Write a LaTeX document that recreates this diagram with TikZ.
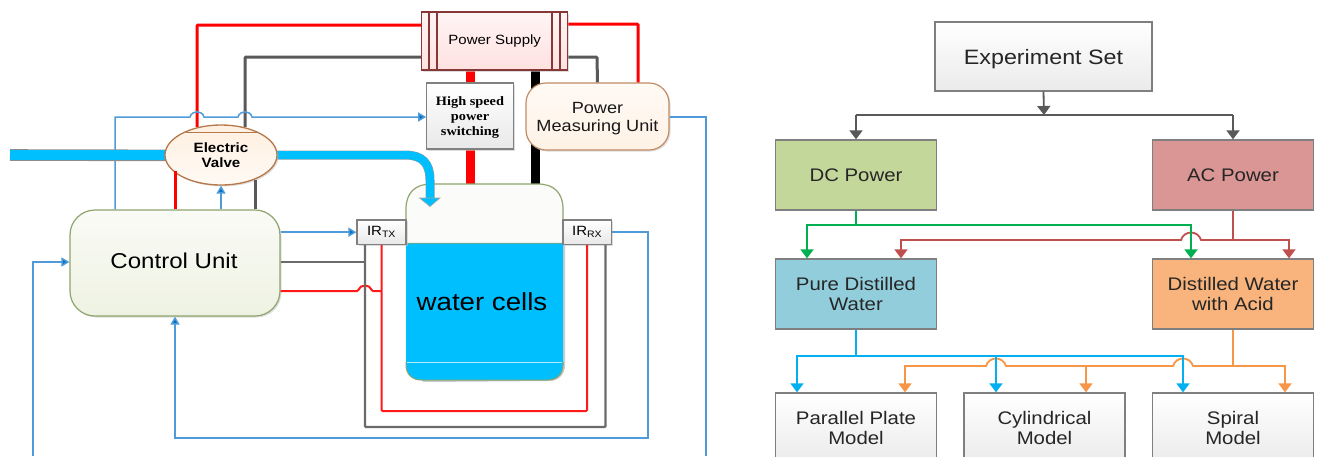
\documentclass[tikz,border=0pt]{standalone}
\usepackage{fontspec}
\setmainfont[FakeStretch=1.12]{Liberation Sans}
\newfontfamily\serifbold[FakeStretch=1.12]{Liberation Serif}
\usetikzlibrary{arrows.meta,shadows,shapes.geometric}
\definecolor{cgreen}{HTML}{00B050}
\definecolor{cbrick}{HTML}{C0504D}
\definecolor{corange}{HTML}{F79646}
\definecolor{ccyan}{HTML}{00B0F0}
\definecolor{cgray}{HTML}{595959}
\definecolor{cline}{HTML}{4F9AD8}
\definecolor{chead}{HTML}{0070C0}
\definecolor{cpipe}{HTML}{00BFFF}
\definecolor{cedge}{HTML}{7F7F7F}
\definecolor{cvalve}{HTML}{B5784A}
\definecolor{colive}{HTML}{8FA46E}
\definecolor{HTMLdc}{HTML}{C4D79B}
\definecolor{HTMLac}{HTML}{D99694}
\definecolor{HTMLpure}{HTML}{92CDDC}
\definecolor{HTMLacid}{HTML}{F8B47C}
\definecolor{cutop}{HTML}{FAFBF6}
\definecolor{cubot}{HTML}{EEF2E2}
\newcommand{\fs}[1]{\fontsize{#1}{1.08\dimexpr #1pt\relax}\selectfont}
\newcommand{\jump}[2]{-- (#1-7,#2) .. controls (#1-5,#2-7) and (#1+5,#2-7) .. (#1+7,#2)}
\newcommand{\jumpb}[2]{-- (#1+10,#2) .. controls (#1+7,#2-10) and (#1-7,#2-10) .. (#1-10,#2)}
\tikzset{
  softshadow/.style={drop shadow={shadow xshift=1.5pt,shadow yshift=-1.5pt,fill=black!22,opacity=.6}},
  blockbox/.style={draw=cedge,line width=1.3pt,inner sep=0pt,minimum width=161pt,minimum height=70pt,align=center,font=\fs{18.2},text=black!85},
  plainbox/.style={blockbox,top color=white,bottom color=black!8},
  smallbox/.style={draw=black!50,line width=1.2pt,inner sep=0pt,top color=white,bottom color=black!9,align=center,softshadow},
  softbox/.style={draw=colive,line width=1.2pt,rounded corners=#1,inner sep=0pt,align=center,softshadow},
  wirered/.style={draw=red!90!white,line width=2pt,rounded corners=1pt},
  redthick/.style={draw=red,line width=3pt,rounded corners=1pt},
  wiregray/.style={draw=black!58,line width=2.2pt,rounded corners=1pt},
  graythick/.style={draw=black!65,line width=3pt,rounded corners=1pt},
  wireblue/.style={draw=cline,line width=1.5pt},
  tipblue/.style={-{Triangle[length=8pt,width=9pt,fill=chead]}},
  flow/.style={line width=1.8pt,-{Triangle[length=9pt,width=13pt]}},
  flowplain/.style={line width=1.8pt},
}
\begin{document}
\begin{tikzpicture}[x=1pt,y=-1pt]
\clip (0,0) rectangle (1317,456);
\fill[white] (0,0) rectangle (1317,456);
% free ends
\coordinate (pipestart) at (10,155);
\coordinate (leftfree) at (33,456);
\coordinate (rightfree) at (706,456);
\coordinate (stemend) at (1044,115);

% thick supply bars behind
\coordinate (barRtop) at (470,70);
\coordinate (barRbot) at (470,185);
\coordinate (barKtop) at (535,70);
\coordinate (barKbot) at (535,185);
\draw[red,line width=9pt] (barRtop) -- (barRbot);
\draw[black,line width=9pt] (barKtop) -- (barKbot);

% left diagram nodes
\node[softbox=25pt,minimum width=210pt,minimum height=106pt,top color=cutop,bottom color=cubot] (cu) at (175,263) {};
\node[font=\fs{21.5},text=black] (cutext) at (174,261) {Control Unit};

% water cell
\fill[black!20] (408,245) -- (565,245) -- (565,366) arc[start angle=0,end angle=-90,radius=15pt] -- (423,382) -- cycle;
\path[fill=white!96!colive,draw=colive,line width=1.2pt] (406,243.5) -- (406,209) .. controls (406,193) and (415,184) .. (431,184) -- (538,184) .. controls (554,184) and (563,193) .. (563,209) -- (563,243.5) -- cycle;
\path[fill=cpipe] (406,243.5) -- (563,243.5) -- (563,365) .. controls (563,375) and (556,380) .. (548,380) -- (421,380) .. controls (413,380) and (406,375) .. (406,365) -- cycle;
\draw[colive,line width=1pt] (406,362) -- (406,365) .. controls (406,375) and (413,380) .. (421,380) -- (548,380) .. controls (556,380) and (563,375) .. (563,365) -- (563,362);
\draw[white!70!cpipe,line width=1pt] (407,362) -- (562,362);
\node[font=\fs{24.7},text=black] (celltext) at (482,302) {water cells};

% IR boxes
\node[smallbox,minimum width=49pt,minimum height=24.5pt,font=\fs{13.4}] (irtx) at (381.5,232.2) {IR\textsubscript{TX}};
\node[smallbox,minimum width=48.5pt,minimum height=24.5pt,font=\fs{13.4}] (irrx) at (587.2,232.2) {IR\textsubscript{RX}};

% supply
\node[softbox=0pt,draw=cbrick!70!black,top color=white!96!red,bottom color=white!88!red,minimum width=146pt,minimum height=58pt,font=\fs{13.4}] (ps) at (494.7,41) {Power Supply};
\draw[draw=cbrick!70!black,line width=1.1pt] (429,12) -- (429,70) (437,12) -- (437,70) (552,12) -- (552,70) (560,12) -- (560,70);
\node[smallbox,minimum width=86.5pt,minimum height=66pt,text depth=0pt,font={\serifbold\bfseries\fontsize{12.8}{15}\selectfont}] (hs) at (470,116) {High speed\\power\\switching};
\node[softbox=20pt,draw=cvalve!85!white,top color=white!96!orange,bottom color=white!90!orange,minimum width=143pt,minimum height=67pt,text depth=0pt,font={\fontsize{16.2}{18}\selectfont},text=black!90] (pm) at (597.5,116.5) {Power\\Measuring Unit};

% wires top
\draw[redthick] (ps.west |- 0,25) -- (197,25) -- (197,127);
\draw[graythick] (ps.west |- 0,57) -- (245,57) -- (245,127);
\draw[wireblue,tipblue,rounded corners=0pt] (115,0 |- cu.north) -- (115,117) \jump{197}{117} \jump{245}{117} -- (hs.west |- 0,117);
\draw[redthick] (ps.east |- 0,24) -- (638,24) -- (638,0 |- pm.north);
\draw[graythick] (ps.east |- 0,57) -- (597,57) -- (pm.north);

% pipe
\draw[black!45,line width=11.6pt] (pipestart) -- (170,155.4);
\draw[cpipe,line width=10.5pt] (pipestart) -- (170,155);
\draw[black!40,line width=9pt] (270,155) -- (405,155) .. controls (422,155) and (430,163) .. (430,180) -- (430,198);
\draw[cpipe,line width=8pt] (270,155) -- (405,155) .. controls (422,155) and (430,163) .. (430,180) -- (430,199);
\fill[cpipe,draw=black!35,line width=.6pt] (419.5,198) -- (440,198) -- (430,206.5) -- cycle;

% valve
\node[draw=cvalve,line width=1.3pt,ellipse,minimum width=112pt,minimum height=60pt,inner sep=0pt,top color=white!88!orange,bottom color=white!96!orange,align=center,text depth=0pt,font={\fontsize{13.5}{15}\selectfont\bfseries},softshadow] (valve) at (221,155) {Electric\\Valve};
\draw[cvalve,line width=1.2pt] (186,132.5) -- (257,132.5);

% control to valve
\draw[redthick] (175,0 |- cu.north) -- (175,171);
\draw[graythick] (255,0 |- cu.north) -- (255,180);
\draw[wireblue,tipblue] (cu.north -| valve.south) -- (valve.south);

% control to IR
\draw[wireblue,tipblue] (cu.east |- irtx.west) -- (irtx.west);
\draw[wiregray] (cu.east |- 0,262) -- (365,262);
\draw[wirered] (cu.east |- 0,291) \jump{365}{291} -- (381.5,291);
\draw[wiregray] (365,0 |- irtx.south) -- (365,427) -- (605.5,427) -- (605.5,0 |- irrx.south);
\draw[wirered] (381.5,0 |- irtx.south) -- (381.5,411) -- (587,411) -- (587,0 |- irrx.south);
\draw[wireblue,tipblue] (irrx.east) -- (648,232.2) -- (648,438) -- (175,438) -- (cu.south);
\draw[wireblue,tipblue] (leftfree) -- (33,262) -- (cu.west |- 0,262);
\draw[wireblue] (pm.east |- 0,117) -- (706,117) -- (rightfree);

% right diagram nodes
\node[plainbox,minimum width=217pt,minimum height=69pt,text depth=0pt,font=\fs{20.8}] (exp) at (1043.5,56.5) {Experiment Set};
\node[blockbox,fill=HTMLdc] (dc) at (856,175) {DC Power};
\node[blockbox,fill=HTMLac] (ac) at (1233,175) {AC Power};
\node[blockbox,fill=HTMLpure] (pure) at (856,294) {Pure Distilled\\Water};
\node[blockbox,fill=HTMLacid] (acid) at (1233,294) {Distilled Water\\with Acid};
\node[plainbox] (par) at (856,428) {Parallel Plate\\Model};
\node[plainbox] (cyl) at (1044.5,428) {Cylindrical\\Model};
\node[plainbox] (spi) at (1233,428) {Spiral\\Model};

% right connectors
\draw[flow,draw=cgray,fill=cgray] (exp.south) -- (stemend);
\draw[flowplain,draw=cgray] (stemend) -- (856,115);
\draw[flowplain,draw=cgray] (stemend) -- (1233,115);
\draw[flow,draw=cgray,fill=cgray] (856,115) -- (dc.north);
\draw[flow,draw=cgray,fill=cgray] (1233,115) -- (ac.north);

\draw[flowplain,draw=cbrick] (ac.south) -- (1233,240);
\draw[flow,draw=cbrick] (1233,240) \jumpb{1191}{240} -- (901,240) -- (901,0 |- pure.north);
\draw[flow,draw=cbrick] (1233,240) -- (1289,240) -- (1289,0 |- acid.north);
\draw[flowplain,draw=cgreen] (dc.south) -- (856,225);
\draw[flow,draw=cgreen] (856,225) -- (807,225) -- (807,0 |- pure.north);
\draw[flow,draw=cgreen] (856,225) -- (1191,225) -- (1191,0 |- acid.north);

\draw[flowplain,draw=corange] (acid.south) -- (1233,366);
\draw[flow,draw=corange] (1233,366) \jumpb{1183}{366} -- (1086,366) -- (1086,0 |- cyl.north);
\draw[flow,draw=corange] (1086,366) \jumpb{996}{366} -- (905,366) -- (905,0 |- par.north);
\draw[flow,draw=corange] (1233,366) -- (1285,366) -- (1285,0 |- spi.north);
\draw[flowplain,draw=ccyan] (pure.south) -- (856,356);
\draw[flow,draw=ccyan] (856,356) -- (797,356) -- (797,0 |- par.north);
\draw[flow,draw=ccyan] (996,356) -- (996,0 |- cyl.north);
\draw[flow,draw=ccyan] (856,356) -- (1183,356) -- (1183,0 |- spi.north);
\end{tikzpicture}
\end{document}
